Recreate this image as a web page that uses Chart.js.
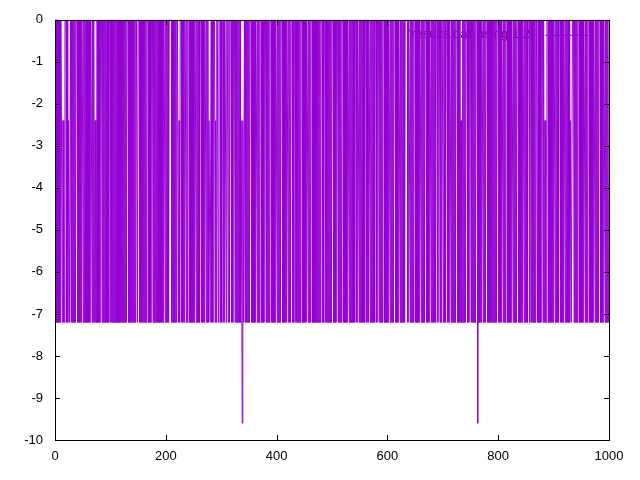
<!DOCTYPE html>
<html><head><meta charset="utf-8">
<script src="https://cdn.jsdelivr.net/npm/chart.js@4"></script>
<style>html,body{margin:0;padding:0;background:#fff}canvas{display:block}</style>
</head><body>
<canvas id="c" width="640" height="480"></canvas>
<script>
const xTicks = [0, 200, 400, 600, 800, 1000];
const yTicks = [0, -1, -2, -3, -4, -5, -6, -7, -8, -9, -10];
const seriesLabel = "'results.dat' using 1:2";
const seriesColor = '#9400d3';
// one value per x = 0..999 (rows of 20)
const values = [
0,-7.2,0,-7.2,0,-7.2,0,-7.2,0,-7.2,0,0,0,-7.2,-2.4,-2.4,-7.2,-7.2,0,0,
0,-7.2,0,-7.2,-2.4,-2.4,-7.2,-7.2,0,-7.2,0,-7.2,0,-7.2,0,-7.2,0,-7.2,0,0,
0,-7.2,0,-7.2,0,-7.2,0,-7.2,0,0,0,-7.2,0,-7.2,0,-7.2,0,-7.2,0,-7.2,
0,-7.2,0,-7.2,0,0,0,-7.2,0,-7.2,0,-7.2,-2.4,-2.4,-7.2,-7.2,0,-7.2,0,-7.2,
0,-7.2,0,0,0,-7.2,0,-7.2,0,-7.2,0,-7.2,0,-7.2,0,-7.2,0,-7.2,0,0,
0,-7.2,0,-7.2,0,-7.2,0,-7.2,0,-7.2,0,-7.2,0,-7.2,0,-7.2,0,-7.2,0,-7.2,
0,-7.2,0,-7.2,0,-7.2,0,-7.2,0,-7.2,0,0,0,-7.2,0,-7.2,0,-7.2,0,-7.2,
0,-7.2,0,-7.2,0,-7.2,0,0,0,-7.2,0,0,0,-7.2,0,-7.2,0,-7.2,0,-7.2,
0,-7.2,0,-7.2,0,-7.2,0,0,0,-7.2,0,-7.2,0,-7.2,0,0,0,-7.2,0,-7.2,
0,-7.2,0,-7.2,0,-7.2,0,-7.2,0,-7.2,0,-7.2,0,-7.2,0,-7.2,0,0,0,-7.2,
0,-7.2,0,-7.2,0,-7.2,0,0,0,0,0,-7.2,0,-7.2,0,-7.2,0,-7.2,0,-7.2,
0,0,0,-7.2,-2.4,-7.2,0,0,0,-7.2,0,-7.2,0,-7.2,0,0,0,-7.2,0,-7.2,
0,0,0,-7.2,0,-7.2,0,-7.2,0,-7.2,0,-7.2,0,0,0,-7.2,0,-7.2,0,-7.2,
0,-7.2,0,0,0,-7.2,0,-7.2,0,-7.2,0,0,0,-7.2,0,-7.2,0,-7.2,-2.4,-2.4,
-7.2,-7.2,0,-7.2,0,-7.2,0,0,0,-7.2,-2.4,-7.2,0,0,0,-7.2,0,0,0,-7.2,
0,-7.2,0,0,0,-7.2,0,0,0,-7.2,0,0,0,-7.2,0,-7.2,0,0,0,-7.2,
0,-7.2,0,0,0,-7.2,0,-7.2,0,-7.2,0,-7.2,0,-7.2,0,-7.2,-2.4,-2.4,-9.6,-2.4,
-7.2,-7.2,0,-7.2,0,-7.2,0,-7.2,0,-7.2,0,-7.2,0,0,0,-7.2,0,-7.2,0,-7.2,
0,-7.2,0,0,0,-7.2,0,-7.2,0,-7.2,0,0,0,-7.2,0,-7.2,0,-7.2,0,0,
0,-7.2,0,-7.2,0,-7.2,0,-7.2,0,0,0,-7.2,0,-7.2,0,-7.2,0,-7.2,0,0,
0,-7.2,0,-7.2,0,-7.2,0,-7.2,0,0,0,-7.2,0,-7.2,0,-7.2,0,-7.2,0,0,
0,-7.2,0,-7.2,0,-7.2,0,0,0,-7.2,0,-7.2,0,0,0,-7.2,0,-7.2,0,-7.2,
0,-7.2,0,-7.2,0,0,0,-7.2,0,-7.2,0,-7.2,0,-7.2,0,0,0,-7.2,0,-7.2,
0,-7.2,0,0,0,-7.2,0,-7.2,0,-7.2,0,-7.2,0,-7.2,0,-7.2,0,-7.2,0,-7.2,
0,0,0,-7.2,0,-7.2,0,0,0,-7.2,0,-7.2,0,-7.2,0,-7.2,0,-7.2,0,-7.2,
0,0,0,-7.2,0,-7.2,0,-7.2,0,0,0,-7.2,0,-7.2,0,-7.2,0,-7.2,0,0,
0,-7.2,0,-7.2,0,-7.2,0,-7.2,0,0,0,-7.2,0,-7.2,0,-7.2,0,-7.2,0,-7.2,
0,-7.2,0,0,0,-7.2,0,0,0,-7.2,0,-7.2,0,-7.2,0,-7.2,0,-7.2,0,-7.2,
0,0,0,-7.2,0,-7.2,0,0,0,-7.2,0,-7.2,0,-7.2,0,-7.2,0,-7.2,0,0,
0,-7.2,0,0,0,-7.2,0,-7.2,0,-7.2,0,-7.2,0,0,0,-7.2,0,-7.2,0,-7.2,
0,-7.2,0,0,0,-7.2,0,-7.2,0,-7.2,0,-7.2,0,0,0,-7.2,0,-7.2,0,-7.2,
0,0,0,-7.2,0,-7.2,0,-7.2,0,-7.2,0,-7.2,0,0,0,0,0,-7.2,0,0,
0,-7.2,0,-7.2,0,-7.2,0,-7.2,0,0,0,-7.2,0,-7.2,0,-7.2,0,-7.2,0,0,
0,-7.2,0,-7.2,0,-7.2,0,-7.2,0,0,0,-7.2,0,-7.2,0,-7.2,0,0,0,-7.2,
0,-7.2,0,-7.2,0,-7.2,0,-7.2,0,0,0,-7.2,0,0,0,-7.2,0,-7.2,0,0,
0,-7.2,0,-7.2,0,-7.2,0,0,0,-7.2,0,-7.2,0,0,0,-7.2,0,-7.2,0,-7.2,
0,-7.2,0,-7.2,0,0,0,-7.2,0,-7.2,0,-7.2,-2.4,-2.4,-7.2,-7.2,0,-7.2,0,-7.2,
0,-7.2,0,0,0,-7.2,0,-7.2,0,0,0,-7.2,0,-7.2,0,-7.2,0,-7.2,0,-7.2,
0,0,0,-9.6,0,-7.2,0,-7.2,0,-7.2,0,0,0,-7.2,0,-7.2,0,-7.2,0,0,
0,-7.2,0,-7.2,0,-7.2,0,-7.2,0,-7.2,0,-7.2,0,-7.2,0,-7.2,0,-7.2,0,0,
0,-7.2,0,-7.2,0,-7.2,0,0,0,-7.2,0,-7.2,0,-7.2,0,0,0,-7.2,0,-7.2,
0,-7.2,0,-7.2,0,0,0,-7.2,0,-7.2,0,-7.2,0,-7.2,0,0,0,-7.2,0,-7.2,
0,-7.2,0,-7.2,0,0,0,-7.2,0,-7.2,0,-7.2,0,-7.2,0,0,0,-7.2,0,0,
0,-7.2,0,-7.2,0,-7.2,0,-7.2,0,0,0,-7.2,0,-7.2,0,-7.2,0,-7.2,0,0,
0,-7.2,0,-7.2,-2.4,-2.4,-7.2,-7.2,0,0,0,-7.2,0,-7.2,0,-7.2,0,-7.2,0,-7.2,
0,0,0,-7.2,0,-7.2,0,-7.2,0,-7.2,0,0,0,-7.2,0,-7.2,0,-7.2,0,0,
0,-7.2,0,-7.2,0,-7.2,0,-7.2,0,-7.2,-2.4,-2.4,-7.2,-7.2,0,0,0,-7.2,0,-7.2,
0,-7.2,0,-7.2,0,0,0,-7.2,0,-7.2,0,-7.2,0,-7.2,0,0,0,-7.2,0,-7.2,
0,-7.2,0,0,0,-7.2,0,-7.2,0,-7.2,0,-7.2,0,0,0,-7.2,0,-7.2,0,-7.2,
0,-7.2,0,0,0,-7.2,0,-7.2,0,-7.2,0,0,0,-7.2,0,-7.2,0,-7.2,0,-7.2
];

const FONT = {family: '"Liberation Sans", Arial, sans-serif', size: 13};

const framePlugin = {
  id: 'frame',
  beforeDatasetsDraw(chart) {
    const ctx = chart.ctx, a = chart.chartArea;
    ctx.save();
    ctx.font = '13px "Liberation Sans", Arial, sans-serif';
    ctx.fillStyle = '#000';
    ctx.textAlign = 'right';
    ctx.textBaseline = 'middle';
    ctx.fillText(seriesLabel, a.right - 79, a.top + 15);
    ctx.strokeStyle = seriesColor;
    ctx.lineWidth = 1;
    ctx.beginPath();
    ctx.moveTo(a.right - 64, a.top + 15.5);
    ctx.lineTo(a.right - 21, a.top + 15.5);
    ctx.stroke();
    ctx.restore();
  },
  afterDatasetsDraw(chart) {
    const ctx = chart.ctx, a = chart.chartArea;
    const xs = chart.scales.x, ys = chart.scales.y;
    const L = 5;
    ctx.save();
    ctx.strokeStyle = '#000';
    ctx.lineWidth = 1;
    ctx.beginPath();
    xTicks.forEach(v => {
      const px = Math.round(xs.getPixelForValue(v)) + 0.5;
      ctx.moveTo(px, a.bottom); ctx.lineTo(px, a.bottom - L);
      ctx.moveTo(px, a.top); ctx.lineTo(px, a.top + L);
    });
    yTicks.forEach(v => {
      const py = Math.round(ys.getPixelForValue(v)) + 0.5;
      ctx.moveTo(a.left, py); ctx.lineTo(a.left + L, py);
      ctx.moveTo(a.right, py); ctx.lineTo(a.right - L, py);
    });
    ctx.stroke();
    ctx.strokeRect(Math.round(a.left) + 0.5, Math.round(a.top) + 0.5,
                   Math.round(a.right - a.left), Math.round(a.bottom - a.top));
    ctx.restore();
  }
};

new Chart(document.getElementById('c'), {
  type: 'line',
  data: {
    datasets: [{
      label: seriesLabel,
      data: values.map((v, i) => ({x: i, y: v})),
      borderColor: seriesColor,
      borderWidth: 1,
      pointRadius: 0,
      tension: 0,
      fill: false
    }]
  },
  options: {
    responsive: false,
    animation: false,
    devicePixelRatio: 1,
    layout: {padding: {top: 18, right: 31, left: 0, bottom: 0}},
    plugins: {legend: {display: false}, tooltip: {enabled: false}},
    scales: {
      x: {
        type: 'linear', min: 0, max: 1000,
        afterBuildTicks: s => { s.ticks = xTicks.map(v => ({value: v})); },
        afterFit: s => { s.height = 40; },
        ticks: {color: '#000', font: FONT, padding: 9, maxRotation: 0,
                callback: v => String(v)},
        grid: {display: false, drawTicks: false},
        border: {display: false}
      },
      y: {
        type: 'linear', min: -10, max: 0,
        afterBuildTicks: s => { s.ticks = yTicks.map(v => ({value: v})); },
        afterFit: s => { s.width = 55; },
        ticks: {color: '#000', font: FONT, padding: 12, callback: v => String(v)},
        grid: {display: false, drawTicks: false},
        border: {display: false}
      }
    }
  },
  plugins: [framePlugin]
});
</script>
</body></html>
